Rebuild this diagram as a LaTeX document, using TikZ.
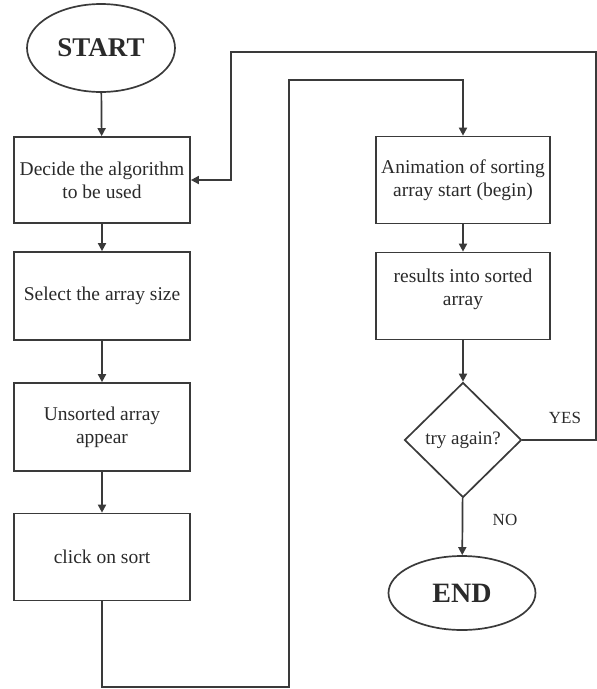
\documentclass[tikz,border=0pt]{standalone}
\usepackage{fontspec}
\setmainfont{Liberation Serif}
\usetikzlibrary{shapes.geometric,arrows.meta}
\definecolor{ink}{HTML}{3A3A3A}
\definecolor{txt}{HTML}{2A2A2A}
\begin{document}
\begin{tikzpicture}[x=1pt,y=-1pt,
  every node/.style={text=txt},
  conn/.style={draw=ink,line width=1.7pt},
  arr/.style={conn,-{Triangle[width=8pt,length=8pt]}},
  box/.style={draw=ink,line width=1.7pt,rectangle,inner sep=0pt,align=center,
    font=\fontsize{19.5}{23}\selectfont},
  term/.style={draw=ink,line width=1.7pt,ellipse,inner sep=0pt,font=\fontsize{27}{30}\selectfont\bfseries},
  dec/.style={draw=ink,line width=1.7pt,diamond,aspect=1,inner sep=0pt,font=\fontsize{19}{23}\selectfont},
  lab/.style={font=\fontsize{17}{20}\selectfont}]
\useasboundingbox (0,0) rectangle (597,689);
\node[term,minimum width=148pt,minimum height=88pt] (start) at (101,48) {START};
\node[box,minimum width=176pt,minimum height=86pt] (b1) at (102,180) {Decide the algorithm\\to be used};
\node[box,minimum width=176pt,minimum height=88pt] (b2) at (102,296) {Select the array size};
\node[box,minimum width=176pt,minimum height=88pt] (b3) at (102,427) {Unsorted array\\appear};
\node[box,minimum width=176pt,minimum height=87pt] (b4) at (102,557) {click on sort};
\node[box,minimum width=174pt,minimum height=87pt] (b5) at (463,180) {Animation of sorting\\array start (begin)};
\node[box,minimum width=174pt,minimum height=87pt] (b6) at (463,296) {results into sorted\\array\\[-6pt]\mbox{}};
\node[dec,minimum width=117pt,minimum height=115pt] (d) at (463,440) {try again?};
\node[term,minimum width=147pt,minimum height=74pt,font=\fontsize{28}{30}\selectfont\bfseries] (end) at (462,593) {END};
\node[lab] (yes) at (565,418) {YES};
\node[lab] (no) at (505,520) {NO};
\coordinate (q1) at (102,687);
\coordinate (q2) at (289,80);
\coordinate (r1) at (596,52);
\coordinate (r2) at (231,52);
\draw[arr] (start) -- (b1);
\draw[arr] (b1) -- (b2);
\draw[arr] (b2) -- (b3);
\draw[arr] (b3) -- (b4);
\draw[arr] (b4.south) -- (q1) -| (q2) -| (b5.north);
\draw[arr] (b5) -- (b6);
\draw[arr] (b6) -- (d);
\draw[arr] (d) -- (end);
\draw[arr] (d.east) -| (r1) -- (r2) |- (b1.east);
\end{tikzpicture}
\end{document}
